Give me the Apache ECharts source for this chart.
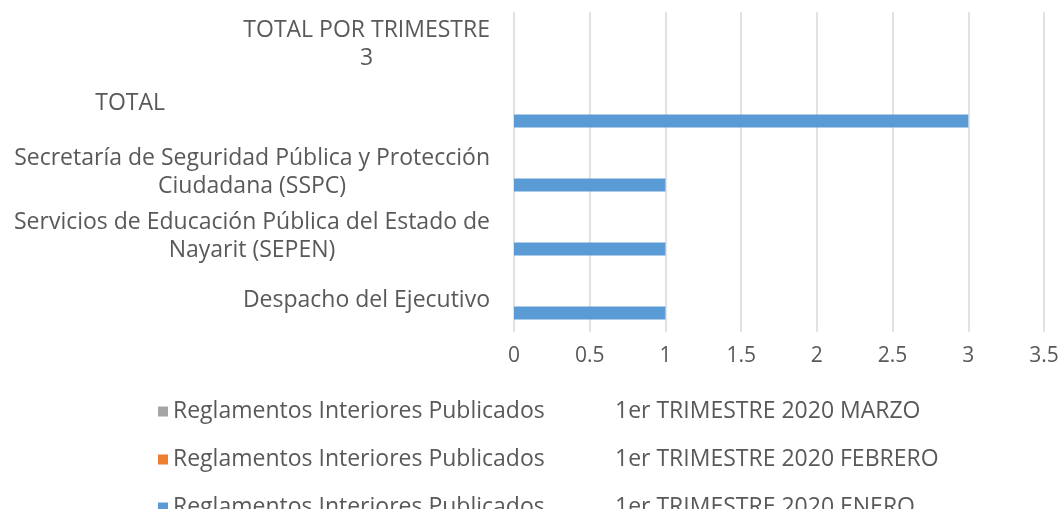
<!DOCTYPE html>
<html>
<head>
<meta charset="utf-8">
<script src="https://cdn.jsdelivr.net/npm/echarts@6/dist/echarts.min.js"></script>
<style>
  html, body { margin: 0; padding: 0; background: #fff; }
  #chart { width: 1063px; height: 509px; }
</style>
</head>
<body>
<div id="chart"></div>
<script>
// categorias (de abajo hacia arriba)
const categorias = [
    'Despacho del Ejecutivo',
    'Servicios de Educación Pública del Estado de\nNayarit (SEPEN)',
    'Secretaría de Seguridad Pública y Protección\nCiudadana (SSPC)',
    'TOTAL',
    'TOTAL POR TRIMESTRE\n3'
];
const serieNombres = [
    'Reglamentos Interiores Publicados|1er TRIMESTRE 2020 ENERO',
    'Reglamentos Interiores Publicados|1er TRIMESTRE 2020 FEBRERO',
    'Reglamentos Interiores Publicados|1er TRIMESTRE 2020 MARZO'
];
const enero = [1, 1, 1, 3, 0];
const febrero = [0, 0, 0, 0, 0];
const marzo = [0, 0, 0, 0, 0];
const ticks = [0, 0.5, 1, 1.5, 2, 2.5, 3, 3.5];

const FONT = 'Open Sans';
const gris = '#595959';
const colores = ['#5B9BD5', '#ED7D31', '#A5A5A5'];

const chart = echarts.init(document.getElementById('chart'));

const option = {
    animation: false,
    grid: { left: 514, right: 19, top: 12, bottom: 177 },
    xAxis: {
        type: 'value',
        min: ticks[0],
        max: ticks[ticks.length - 1],
        interval: 0.5,
        axisLine: { show: false },
        axisTick: { show: false },
        axisLabel: { color: gris, fontFamily: FONT, fontSize: 21, margin: 14 },
        splitLine: { lineStyle: { color: '#d9d9d9', width: 1.5 } }
    },
    yAxis: {
        type: 'category',
        data: categorias,
        axisLine: { show: false },
        axisTick: { show: false },
        axisLabel: {
            margin: 24,
            color: gris,
            fontFamily: FONT,
            fontSize: 23,
            formatter: function (v) {
                if (v === 'TOTAL') return '{t|TOTAL}';
                return v.split('\n').map(l => '{c|' + l + '}').join('\n');
            },
            rich: {
                c: { align: 'center', color: gris, fontFamily: FONT, fontSize: 23, lineHeight: 28 },
                t: { color: gris, fontFamily: FONT, fontSize: 23, padding: [0, 325, 10, 0] }
            }
        }
    },
    legend: {
        orient: 'vertical',
        left: 158,
        top: 400,
        height: 130,
        padding: 0,
        itemWidth: 10,
        itemHeight: 10,
        itemGap: 25,
        icon: 'rect',
        data: [serieNombres[2], serieNombres[1], serieNombres[0]],
        formatter: function (name) {
            const p = name.split('|');
            return '{a|' + p[0] + '}{b|' + p[1] + '}';
        },
        textStyle: {
            rich: {
                a: { width: 442, color: gris, fontFamily: FONT, fontSize: 23, lineHeight: 20 },
                b: { color: gris, fontFamily: FONT, fontSize: 23, lineHeight: 20 }
            }
        }
    },
    // el primer serie queda arriba en la banda, por eso MARZO va primero
    series: [
        { name: serieNombres[2], type: 'bar', data: marzo, itemStyle: { color: colores[2] }, barGap: '0%', barCategoryGap: '39%' },
        { name: serieNombres[1], type: 'bar', data: febrero, itemStyle: { color: colores[1] }, barGap: '0%', barCategoryGap: '39%' },
        { name: serieNombres[0], type: 'bar', data: enero, itemStyle: { color: colores[0] }, barGap: '0%', barCategoryGap: '39%' }
    ]
};

chart.setOption(option);
</script>
</body>
</html>
